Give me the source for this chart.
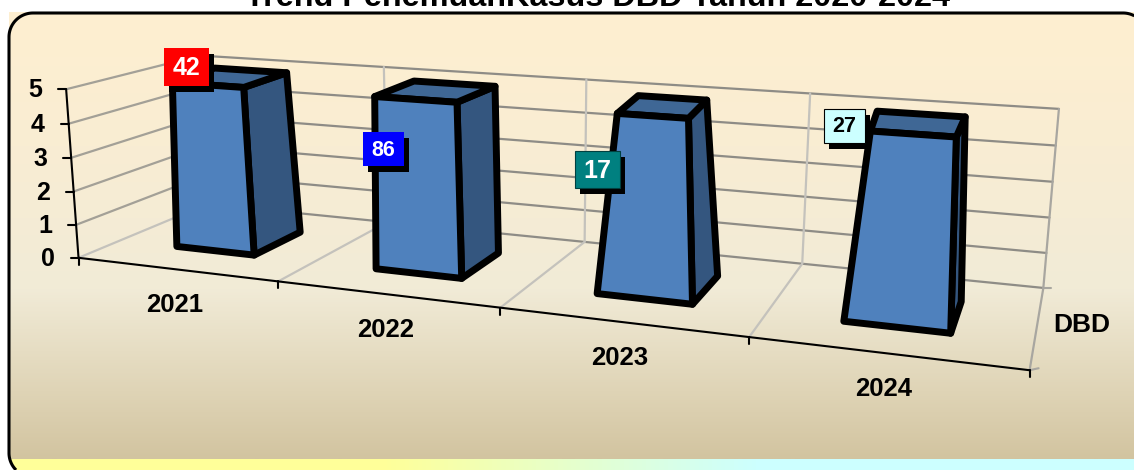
import numpy as np, pandas as pd, matplotlib
matplotlib.use("Agg")
import matplotlib.pyplot as plt, seaborn as sns
from matplotlib.patches import Rectangle, Polygon
from matplotlib.colors import LinearSegmentedColormap

# ---- data ----
years = ["2021", "2022", "2023", "2024"]
dbd_values = [5, 5, 5, 5]
point_labels = ["42", "86", "17", "27"]
y_ticks = [0, 1, 2, 3, 4, 5]
series_name = "DBD"
title = "Trend PenemuanKasus DBD Tahun 2020-2024"

# ---- projection of the 3D chart box onto the picture ----
anch = [((0,0,0),(80,257)),((4,0,0),(1030,370)),((0,5,0),(65,89.5)),((0,5,1),(201,56)),
        ((0,0,1),(206,203)),((4,5,1),(1058,108)),((4,0,1),(1043,287)),((3,0,1),(803,265)),
        ((2,0,1),(584,243)),((1,0,1),(388,222)),((1,0,0),(278,282)),((2,0,0),(500,307)),
        ((3,0,0),(749,338)),((3,5,1),(811,93)),((2,5,1),(587,80)),((1,5,1),(383,67))]
A, b = [], []
for (x, y, z), (u, v) in anch:
    A.append([x,y,z,1,0,0,0,0,-u*x,-u*y,-u*z]); b.append(u)
    A.append([0,0,0,0,x,y,z,1,-v*x,-v*y,-v*z]); b.append(v)
M = np.append(np.linalg.lstsq(np.array(A, float), np.array(b, float), rcond=None)[0], 1).reshape(3, 4)

def P(x, y, z):
    h = M @ np.array([x, y, z, 1.0])
    return h[0]/h[2], h[1]/h[2]

sns.set_theme(style="white")
plt.rcParams["font.family"] = ["Liberation Sans", "DejaVu Sans"]
fig = plt.figure(figsize=(11.34, 4.7), dpi=100)
ax = fig.add_axes([0, 0, 1, 1])
ax.axis("off")

# ---- background ----
bg = LinearSegmentedColormap.from_list("bg", [(0, "#FEEFD0"), (0.3, "#F9EDD3"), (0.62, "#F1EBD7"),
                                              (0.85, "#DFD4B6"), (1, "#D2C4A0")])
ax.imshow(np.linspace(0, 1, 256)[:, None], cmap=bg, extent=(9, 1134, 459, 12), aspect="auto", zorder=0)
band = LinearSegmentedColormap.from_list("band", ["#FFFF99", "#FFFF99", "#CCFFFF", "#CCFFFF"])
band_im = ax.imshow(np.linspace(0, 1, 256)[None, :], cmap=band, extent=(9, 1134, 470, 459),
                    aspect="auto", zorder=0)
ax.set_xlim(0, 1134)
ax.set_ylim(470, 0)

# rounded frame that runs off the right and bottom of the picture
L, T, Rt, Bt, r = 9, 13, 1147, 477, 24
def arc(cx, cy, a0, a1, n=30):
    t = np.radians(np.linspace(a0, a1, n))
    return np.column_stack([cx + r*np.cos(t), cy + r*np.sin(t)])
bot = arc(L + r, Bt - r, 180, 180 - 45)          # lower-left, ends just below the picture
tl = arc(L + r, T + r, 180, 270)
tr = arc(Rt - r, T + r, 270, 298)
frame_xy = np.vstack([bot[::-1], tl, tr])
ax.plot(frame_xy[:, 0], frame_xy[:, 1], color="black", lw=2.2, zorder=1, solid_capstyle="butt")
clip_poly = Polygon(np.vstack([bot[::-1], [(L, 440), (1134, 440), (1134, 475)]]),
                    transform=ax.transData, fc="none", ec="none")
ax.add_patch(clip_poly)
band_im.set_clip_path(clip_poly)

def seg(p0, p1, color, lw=1.6, z=2):
    (x0, y0), (x1, y1) = P(*p0), P(*p1)
    df = pd.DataFrame({"x": [x0, x1], "y": [y0, y1]})
    sns.lineplot(data=df, x="x", y="y", color=color, lw=lw, ax=ax, sort=False, estimator=None,
                 legend=False, zorder=z)

# ---- walls and floor ----
ncat = len(years)
for v in y_ticks[1:]:
    seg((0, v, 0), (0, v, 1), "#A3A097")
for v in y_ticks:
    seg((0, v, 1), (ncat, v, 1), "#8E8C86")
seg((0, 0, 0), (0, 0, 1), "#C4C2BC")
for i in range(1, ncat):
    seg((i, 0, 0), (i, 0, 1), "#C4C2BC")
    seg((i, 0, 1), (i, 5, 1), "#C4C2BC")
seg((ncat, 0, 1), (ncat, 5, 1), "#A8A6A0")
seg((ncat, 0, 0), (ncat, 0, 1), "#A8A6A0")

# ---- axes ----
seg((0, 0, 0), (0, 5, 0), "black", 1.5, 3)
seg((0, 0, 0), (ncat, 0, 0), "black", 1.5, 3)
for v in y_ticks:
    u, w = P(0, v, 0)
    ax.plot([u - 8, u], [w, w], color="black", lw=1.5, zorder=3)
    ax.text(u - 31, w + 1, str(v), ha="center", va="center", fontsize=18, fontweight="bold", color="black")
for i in range(ncat + 1):
    u, w = P(i, 0, 0)
    ax.plot([u, u], [w, w + 7], color="black", lw=1.5, zorder=3)
u, w = P(ncat, 0, 0); ax.plot([u, u + 9], [w, w - 2], color="#A8A6A0", lw=1.5, zorder=2)
u, w = P(ncat, 0, 1); ax.plot([u, u + 8], [w, w], color="#A8A6A0", lw=1.5, zorder=2)
for i, lab in enumerate(years):
    u, w = P(i + .5, 0, 0)
    ax.text(u - 1, w + 36, lab, ha="center", va="center", fontsize=18.5, fontweight="bold", color="black")
ax.text(1082, 325, series_name, ha="center", va="center", fontsize=19, fontweight="bold", color="black")

# ---- bars ----
x_pad, z0, z1 = .3, .3, .7
# the reference narrows each bar toward its top: inset of the top corners along x
# (front-left, front-right, back-right, back-left)
top_inset = [(.025, -.015, -.04, -.02), (.013, -.013, -.013, 0),
             (.074, -.037, -.07, .035), (.06, -.03, -.036, .025)]
for i, val in enumerate(dbd_values):
    x0, x1 = i + x_pad, i + 1 - x_pad
    fl, fr, br, bl = top_inset[i]
    faces = [([(x1,0,z0),(x1,0,z1),(x1+br,val,z1),(x1+fr,val,z0)], "#34567F"),
             ([(x0+fl,val,z0),(x1+fr,val,z0),(x1+br,val,z1),(x0+bl,val,z1)], "#3F6795"),
             ([(x0,0,z0),(x1,0,z0),(x1+fr,val,z0),(x0+fl,val,z0)], "#4F81BD")]
    for pts, col in faces:
        xy = np.array([P(*q) for q in pts])
        ax.fill(xy[:, 0], xy[:, 1], fc=col, ec="black", lw=5.0, joinstyle="round", zorder=5 + i)

# ---- data label boxes ----
boxes = [(164, 48, 45, 38, "#FF0000", "white", 18, "none"),
         (363, 132, 41, 34, "#0000FF", "white", 15.5, "none"),
         (575, 151, 45, 37, "#008080", "white", 18, "#004040"),
         (824, 109, 41, 34, "#CCFFFF", "black", 15.5, "black")]
for (bx, by, bw, bh, fc, tc, fs, ec), lab in zip(boxes, point_labels):
    ax.add_patch(Rectangle((bx + 5, by + 6), bw, bh, fc="black", ec="none", zorder=12))
    ax.add_patch(Rectangle((bx, by), bw, bh, fc=fc, ec=ec, lw=.8, zorder=13))
    ax.text(bx + bw/2, by + bh/2 + 1, lab, ha="center", va="center", color=tc, fontsize=fs,
            fontweight="bold", zorder=14)

# ---- title, cut by the top of the picture as in the reference ----
ax.text(597.5, 6.5, title, ha="center", va="baseline", fontsize=23.3, fontweight="bold", color="black", zorder=14)

fig.savefig("out.png", dpi=100)
